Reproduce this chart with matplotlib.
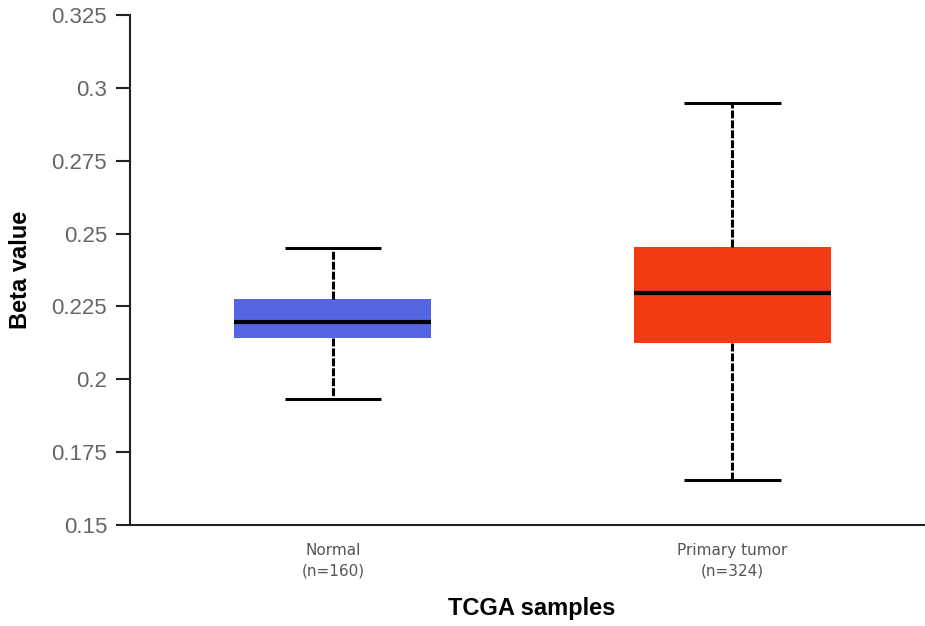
import matplotlib
matplotlib.use("Agg")
import matplotlib.pyplot as plt

categories = ["Normal\n(n=160)", "Primary tumor\n(n=324)"]
whislo = [0.1931, 0.1654]
q1 = [0.2140, 0.2126]
med = [0.2195, 0.2295]
q3 = [0.2277, 0.2455]
whishi = [0.2452, 0.2949]
colors = ["#5566E2", "#F23A13"]
yticks = [0.15, 0.175, 0.2, 0.225, 0.25, 0.275, 0.3, 0.325]
ytick_labels = ["0.15", "0.175", "0.2", "0.225", "0.25", "0.275", "0.3", "0.325"]

fig = plt.figure(figsize=(9.25, 6.26), dpi=100)
ax = fig.add_axes([130/925, 101/626, 1 - 130/925, 510/626])

stats = []
for i in range(len(categories)):
    stats.append(dict(med=med[i], q1=q1[i], q3=q3[i], whislo=whislo[i], whishi=whishi[i], fliers=[]))

bp = ax.bxp(stats, positions=[1, 2], widths=0.493, capwidths=0.242, patch_artist=True,
            showfliers=False,
            boxprops=dict(linewidth=0),
            medianprops=dict(color="black", linewidth=3, solid_capstyle="butt"),
            whiskerprops=dict(color="black", linewidth=2.2, linestyle=(0, (2.6, 0.65))),
            capprops=dict(color="black", linewidth=2.2, solid_capstyle="butt"))
for patch, c in zip(bp["boxes"], colors):
    patch.set_facecolor(c)
    patch.set_edgecolor(c)
for w in bp["whiskers"]:
    w.set_dash_capstyle("butt")

ax.set_xlim(0.492, 2.482)
ax.set_ylim(0.15, 0.325)
ax.set_yticks(yticks)
ax.set_yticklabels(ytick_labels, fontfamily="Liberation Sans", fontsize=16, color="#666666")
ax.set_xticks([1, 2])
ax.set_xticklabels(categories, fontfamily="DejaVu Sans", fontsize=11, color="#555555",
                   linespacing=1.45)
ax.tick_params(axis="x", length=0, pad=13)
ax.tick_params(axis="y", length=10, width=1.5, pad=6.5, color="#222222")
for s in ["top", "right"]:
    ax.spines[s].set_visible(False)
for s in ["left", "bottom"]:
    ax.spines[s].set_linewidth(1.5)
    ax.spines[s].set_color("#222222")

fig.text(21/925, 1 - 270/626, "Beta value", rotation=90, ha="center", va="center",
         fontfamily="Liberation Sans", fontweight="bold", fontsize=17)
fig.text(532/925, 1 - 609/626, "TCGA samples", ha="center", va="center",
         fontfamily="Liberation Sans", fontweight="bold", fontsize=17)

fig.savefig("out.png", dpi=100)
